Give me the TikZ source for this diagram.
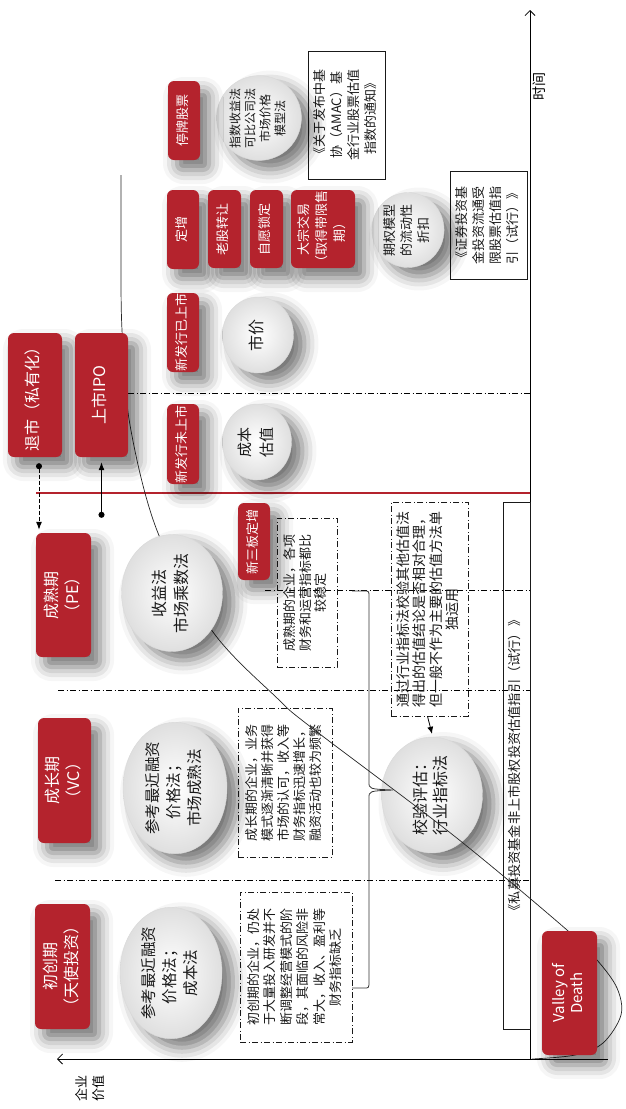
\documentclass[tikz,border=0pt]{standalone}
\usepackage{fontspec}
\setmainfont{Noto Sans CJK SC}
\usepackage{graphicx}
\usetikzlibrary{shapes.geometric,arrows.meta,shadows.blur}
\definecolor{myred}{RGB}{180,35,45}
\definecolor{txt}{RGB}{25,25,25}
\newcommand\rt[3]{\rotatebox{90}{\fontsize{#1}{#2}\selectfont\begin{tabular}{@{}c@{}}#3\end{tabular}}}
\begin{document}
\begin{tikzpicture}[x=1pt,y=-1pt,
  redbox/.style={rounded corners=6pt, fill=myred, text=white, inner sep=0pt,
    blur shadow={shadow xshift=9pt,shadow yshift=-10pt,shadow blur radius=14pt,shadow opacity=55}},
  circ/.style={ellipse, draw=gray!30, inner sep=0pt, inner color=white, outer color=gray!25, text=txt,
    blur shadow={shadow xshift=11pt,shadow yshift=-9pt,shadow blur radius=14pt,shadow opacity=55}},
  dbox/.style={draw=txt, line width=0.6pt, dash pattern=on 6pt off 2.5pt on 1pt off 2.5pt, inner sep=0pt, text=txt},
  rbox/.style={draw=txt, line width=0.7pt, inner sep=0pt, text=txt},
  stageline/.style={line width=0.6pt, dash pattern=on 6pt off 2.5pt on 1pt off 2.5pt},
  axisline/.style={line width=0.8pt, -{Straight Barb[length=5pt,width=10pt]}},
  conn/.style={line width=1pt},
]
\useasboundingbox (0,0) rectangle (625,1109);

% stage separators
\draw[stageline] (128,393) -- (530,393);
\draw[stageline] (265,590) -- (530,590);
\draw[stageline] (58,690) -- (530,690);
\draw[stageline] (55,880) -- (530,880);
\draw[myred, line width=1.5pt] (36,493) -- (530,493);

% axes
\coordinate (origin) at (530,1059);
\coordinate (ttop) at (530,10);
\coordinate (vend) at (57,1059);
\coordinate (vstart) at (608,1059);
\draw[axisline] (origin) -- (ttop);
\draw[axisline] (vstart) -- (vend);
\node (shijian) at (541,86) {\rt{14}{16}{时间}};
\node (qiye) at (92,1088) {\rt{13}{17}{企业\\价值}};

% text boxes
\node[rbox, minimum width=77pt, minimum height=128pt] (ramac) at (346.5,115) {\rt{13}{17}{《关于发布中基\\协（AMAC）基\\金行业股票估值\\指数的通知》}};
\node[rbox, minimum width=77pt, minimum height=108pt] (rzq) at (488.5,225) {\rt{13}{17}{《证券投资基\\金投资流通受\\限股票估值指\\引（试行）》}};
\node[rbox, minimum width=27pt, minimum height=527pt] (rsimu) at (516.5,765.5) {\rt{13.2}{16}{《私募投资基金非上市股权投资估值指引（试行）》}};

\node[dbox, minimum width=60pt, minimum height=149pt] (dpe) at (307,592.5) {\rt{13}{15.5}{成熟期的企业，各项\\财务和运营指标都比\\较稳定}};
\node[dbox, minimum width=77pt, minimum height=214pt] (dtg) at (429.5,609) {\rt{14}{16}{通过行业指标法校验其他估值法\\得出的估值结论是否相对合理，\\但一般不作为主要的估值方法单\\独运用}};
\node[dbox, minimum width=94pt, minimum height=149pt] (dvc) at (285,782.5) {\rt{13}{16}{成长期的企业，业务\\模式逐渐清晰并获得\\市场的认可，收入等\\财务指标迅速增长，\\融资活动也较为频繁}};
\node[dbox, minimum width=112pt, minimum height=150pt] (dangel) at (296,967) {\rt{13}{16.5}{初创期的企业，仍处\\于大量投入研发并不\\断调整经营模式的阶\\段，其面临的风险非\\常大，收入、盈利等\\财务指标缺乏}};

% check circle (curve passes over it)
\node[circ, minimum width=101pt, minimum height=116pt] (cjy) at (432,795) {\rt{16}{20}{校验评估：\\行业指标法}};

% enterprise value curve
\draw[line width=0.7pt, black!85] plot[smooth, tension=0.55] coordinates {
 (532,1059) (575,1055) (603,1043) (621,1015) (617,988) (597,960) (567,930)
 (453,835) (312,728) (277,698) (213,632) (158,533) (130,425) (122,330) (121,250) (121,175)};

% circles
\node[circ, minimum width=72pt, minimum height=77pt] (czs) at (259,118) {\rt{12}{15}{指数收益法\\可比公司法\\市场价格\\模型法}};
\node[circ, minimum width=71pt, minimum height=76pt] (csj) at (258,335) {\rt{16}{20}{市价}};
\node[circ, minimum width=69pt, minimum height=76pt] (ccb) at (257,442) {\rt{15}{22}{成本\\估值}};
\node[circ, minimum width=70pt, minimum height=75pt] (cqq) at (408,230) {\rt{13}{17}{期权模型\\的流动性\\折扣}};
\node[circ, minimum width=101pt, minimum height=117pt] (csy) at (172,593) {\rt{16}{22}{收益法\\市场乘数法}};
\node[circ, minimum width=104pt, minimum height=103pt] (cvc) at (175,788) {\rt{15.5}{21}{参考最近融资\\价格法；\\市场成熟法}};
\node[circ, minimum width=102pt, minimum height=107pt] (cangel) at (171,973) {\rt{15.5}{21}{参考最近融资\\价格法；\\成本法}};

% red boxes
\node[redbox, minimum width=54pt, minimum height=124pt] (tuishi) at (35,395) {\rt{16}{20}{退市（私有化）}};
\node[redbox, minimum width=53pt, minimum height=124pt] (ipo) at (101.5,395) {\rt{16}{20}{上市IPO}};
\node[redbox, minimum width=55pt, minimum height=124pt] (pe) at (63.5,595) {\rt{16}{21}{成熟期\\（PE）}};
\node[redbox, minimum width=53pt, minimum height=125pt] (vc) at (64.5,780.5) {\rt{16}{21}{成长期\\（VC）}};
\node[redbox, minimum width=55pt, minimum height=125pt] (angel) at (62.5,966.5) {\rt{16}{21}{初创期\\（天使投资）}};
\node[redbox, minimum width=55pt, minimum height=124pt] (valley) at (569.5,993) {\rt{15}{18}{Valley of\\Death}};
\node[redbox, minimum width=32pt, minimum height=79pt] (tingpai) at (184,120.5) {\rt{13}{16}{停牌股票}};
\node[redbox, minimum width=32pt, minimum height=79pt] (dingzeng) at (183,229.5) {\rt{13}{16}{定增}};
\node[redbox, minimum width=33pt, minimum height=78pt] (laogu) at (224.5,229) {\rt{13}{16}{老股转让}};
\node[redbox, minimum width=33pt, minimum height=78pt] (ziyuan) at (266.5,229) {\rt{13}{16}{自愿锁定}};
\node[redbox, minimum width=64pt, minimum height=78pt] (dazong) at (323,229) {\rt{13}{18}{大宗交易\\（取得带限售\\期）}};
\node[redbox, minimum width=32pt, minimum height=79pt] (xinyi) at (183,332.5) {\rt{13}{16}{新发行已上市}};
\node[redbox, minimum width=32pt, minimum height=80pt] (xinwei) at (183,444) {\rt{13}{16}{新发行未上市}};
\node[redbox, minimum width=32pt, minimum height=77pt] (xinsanban) at (254,541.5) {\rt{13}{16}{新三板定增}};

% arrows between stage boxes
\draw[conn, dash pattern=on 4pt off 2pt, {Circle[length=6pt]}-{Latex[length=8pt,width=6pt]}]
  ([xshift=4pt,yshift=-6pt]tuishi.south) -- ([xshift=4pt,yshift=3pt]tuishi.south |- pe.north);
\draw[conn, {Circle[length=6pt]}-{Latex[length=8pt,width=6pt]}]
  ([yshift=15pt]ipo.south |- pe.north) -- ([yshift=-5pt]ipo.south);

% brace
\coordinate (bt) at (352,591);
\coordinate (bb) at (352,988);
\coordinate (btip) at (393,790);
\draw[gray!40!black, line width=0.8pt] (bt) -- (364,591) .. controls (369,591) .. (369,597) -- (369,782)
  .. controls (369,789) .. (btip) .. controls (369,791) .. (369,798) -- (369,981) .. controls (369,988) .. (364,988) -- (bb);

% arrow to check circle
\draw[line width=0.8pt, -{Latex[length=7pt,width=6pt]}] ([xshift=-2pt]dtg.south) -- ([yshift=3pt]cjy.north);
\end{tikzpicture}
\end{document}
